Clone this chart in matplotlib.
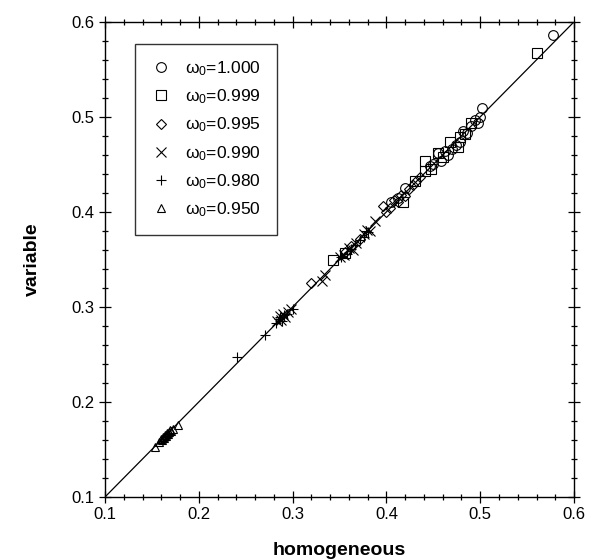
import matplotlib
matplotlib.use("Agg")
import matplotlib.pyplot as plt
from matplotlib.ticker import MultipleLocator

plt.rcParams['font.family'] = ['Liberation Sans', 'DejaVu Sans']
plt.rcParams['mathtext.fontset'] = 'custom'
plt.rcParams['mathtext.rm'] = 'Liberation Sans'
plt.rcParams['mathtext.it'] = 'Liberation Sans:italic'

# omega_0 = 1.000 (circles)
x_1000 = [0.578, 0.502, 0.500, 0.498, 0.494, 0.490, 0.486, 0.482, 0.478, 0.474,
          0.470, 0.466, 0.462, 0.458, 0.455, 0.450, 0.446, 0.420, 0.412, 0.405]
y_1000 = [0.586, 0.509, 0.500, 0.494, 0.497, 0.490, 0.483, 0.485, 0.474, 0.470,
          0.466, 0.460, 0.464, 0.453, 0.462, 0.450, 0.448, 0.425, 0.415, 0.410]
# omega_0 = 0.999 (squares)
x_0999 = [0.560, 0.490, 0.484, 0.478, 0.476, 0.468, 0.460, 0.455, 0.448, 0.441,
          0.441, 0.430, 0.418, 0.343, 0.356]
y_0999 = [0.567, 0.493, 0.482, 0.479, 0.468, 0.473, 0.458, 0.462, 0.445, 0.453,
          0.443, 0.432, 0.410, 0.349, 0.357]
# omega_0 = 0.995 (diamonds)
x_0995 = [0.320, 0.396, 0.400, 0.404, 0.408, 0.412, 0.416, 0.420, 0.424, 0.428,
          0.432, 0.436, 0.356, 0.362, 0.372]
y_0995 = [0.325, 0.406, 0.400, 0.404, 0.412, 0.410, 0.418, 0.417, 0.424, 0.428,
          0.432, 0.437, 0.358, 0.364, 0.371]
# omega_0 = 0.990 (x)
x_0990 = [0.283, 0.286, 0.288, 0.290, 0.292, 0.295, 0.298, 0.331, 0.335, 0.350,
          0.355, 0.360, 0.364, 0.368, 0.376, 0.379, 0.382, 0.388]
y_0990 = [0.285, 0.290, 0.286, 0.292, 0.289, 0.295, 0.298, 0.327, 0.334, 0.352,
          0.355, 0.362, 0.360, 0.367, 0.377, 0.381, 0.380, 0.390]
# omega_0 = 0.980 (+)
x_0980 = [0.241, 0.271, 0.282, 0.285, 0.287, 0.289, 0.291, 0.294, 0.300, 0.352,
          0.358, 0.362, 0.366, 0.372, 0.376, 0.378, 0.380]
y_0980 = [0.247, 0.270, 0.283, 0.287, 0.289, 0.285, 0.291, 0.293, 0.298, 0.352,
          0.356, 0.361, 0.365, 0.370, 0.374, 0.380, 0.379]
# omega_0 = 0.950 (triangles)
x_0950 = [0.153, 0.158, 0.160, 0.161, 0.162, 0.163, 0.164, 0.165, 0.166, 0.167,
          0.168, 0.169, 0.170, 0.172, 0.178]
y_0950 = [0.153, 0.158, 0.161, 0.160, 0.163, 0.162, 0.165, 0.164, 0.167, 0.166,
          0.168, 0.170, 0.169, 0.171, 0.176]

labels = ['1.000', '0.999', '0.995', '0.990', '0.980', '0.950']
markers = ['o', 's', 'D', 'x', '+', '^']
sizes = [7, 7, 5, 7, 7.5, 6]
series = [(x_1000, y_1000), (x_0999, y_0999), (x_0995, y_0995),
          (x_0990, y_0990), (x_0980, y_0980), (x_0950, y_0950)]

fig = plt.figure(figsize=(5.9, 5.59), dpi=100)
ax = fig.add_axes([0.178, 0.111, 0.795, 0.850])

ax.plot([0.1, 0.6], [0.1, 0.6], color='black', lw=0.9, zorder=1)

for (xs, ys), lab, m, s in zip(series, labels, markers, sizes):
    ax.plot(xs, ys, linestyle='none', marker=m, markersize=s,
            markerfacecolor='none', markeredgecolor='black', markeredgewidth=0.8,
            color='black', label=r'$\mathrm{\omega}_{\mathrm{0}}$=' + lab)

ax.set_xlim(0.1, 0.6)
ax.set_ylim(0.1, 0.6)
ax.xaxis.set_major_locator(MultipleLocator(0.1))
ax.yaxis.set_major_locator(MultipleLocator(0.1))
ax.xaxis.set_minor_locator(MultipleLocator(0.02))
ax.yaxis.set_minor_locator(MultipleLocator(0.02))
ax.xaxis.set_major_formatter(plt.FormatStrFormatter('%.1f'))
ax.yaxis.set_major_formatter(plt.FormatStrFormatter('%.1f'))
ax.tick_params(which='both', direction='inout', top=True, right=True,
               labelsize=12, width=0.9)
ax.tick_params(which='major', length=8)
ax.tick_params(which='minor', length=4)
for sp in ax.spines.values():
    sp.set_linewidth(1.0)

ax.set_xlabel('homogeneous', fontsize=14, fontweight='bold', labelpad=14)
ax.set_ylabel('variable', fontsize=14, fontweight='bold', labelpad=22)

leg = ax.legend(loc='upper left', bbox_to_anchor=(0.064, 0.954), borderaxespad=0,
                fontsize=12.5, frameon=True, fancybox=False, edgecolor='black',
                labelspacing=0.55, handletextpad=0.8, borderpad=0.9,
                handlelength=1.2)
leg.get_frame().set_linewidth(1.0)

fig.savefig('out.png', dpi=100)
